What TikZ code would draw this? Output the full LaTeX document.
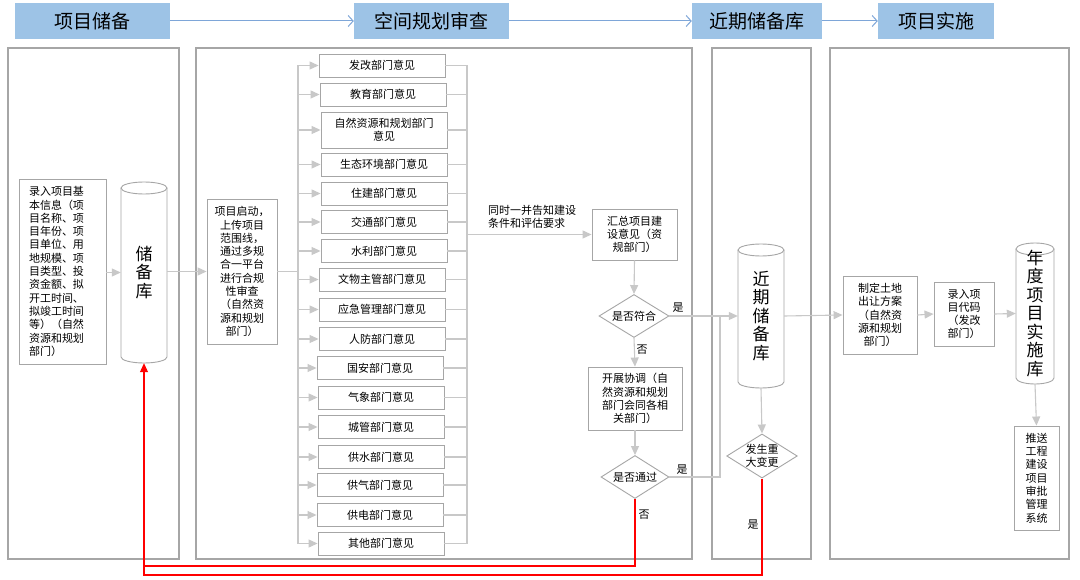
\documentclass[tikz,border=0pt]{standalone}
\usepackage{fontspec}
\setmainfont{Noto Sans CJK SC}
\usetikzlibrary{shapes.geometric,arrows.meta}
\definecolor{hdr}{HTML}{9DC3E6}
\definecolor{hdrarrowc}{HTML}{7EA6D8}
\definecolor{lanec}{HTML}{A6A6A6}
\definecolor{boxc}{HTML}{A6A6A6}
\definecolor{connc}{HTML}{C8C8C8}
\newcommand{\cylshape}[4]{%
 \draw[draw=boxc,line width=0.9pt,fill=white] (#1-#4,#2+6) -- (#1-#4,#3-6) .. controls (#1-#4,#3-2.69) and (#1-0.5523*#4,#3) .. (#1,#3) .. controls (#1+0.5523*#4,#3) and (#1+#4,#3-2.69) .. (#1+#4,#3-6) -- (#1+#4,#2+6);
 \draw[draw=boxc,line width=0.9pt,fill=white] (#1,#2+6) ellipse [x radius=#4, y radius=6];
}
\begin{document}
\begin{tikzpicture}[x=1pt,y=-1pt,
  hdrbox/.style={fill=hdr,draw=none,minimum height=36pt,inner sep=0pt,font=\fontsize{19}{22}\selectfont},
  hdrarrow/.style={draw=hdrarrowc,line width=1pt,-{Straight Barb[length=5pt,width=11pt]}},
  lane/.style={draw=lanec,line width=2pt},
  pbox/.style={draw=boxc,line width=0.9pt,fill=white,inner sep=0pt,align=center,font=\fontsize{11}{13.3}\selectfont},
  dept/.style={pbox,minimum width=126pt,minimum height=23pt},
  judge/.style={diamond,draw=boxc,line width=0.9pt,fill=white,inner sep=0pt,aspect=1.6,align=center,font=\fontsize{11}{13.3}\selectfont},
  cyltext/.style={draw=none,inner sep=0pt,align=center,font=\fontsize{17}{18.5}\selectfont},
  conn/.style={draw=connc,line width=1.1pt,-{Triangle[length=9pt,width=8pt]}},
  cline/.style={draw=connc,line width=1.1pt},
  redconn/.style={draw=red,line width=1.1pt,-{Triangle[length=9pt,width=8pt]}},
  redline/.style={draw=red,line width=1.1pt},
  lbl/.style={inner sep=0pt,font=\fontsize{11}{13.3}\selectfont},
]
\fill[white] (0,0) rectangle (1080,580);
\useasboundingbox (0,0) rectangle (1080,580);

% lanes
\draw[lane] (8,48) rectangle (179,559);
\draw[lane] (196,48) rectangle (692,559);
\draw[lane] (712,48) rectangle (811,559);
\draw[lane] (830,48) rectangle (1069,559);

% headers
\node[hdrbox,minimum width=155pt] (h1) at (92.5,21) {项目储备};
\node[hdrbox,minimum width=155pt] (h2) at (431.5,21) {空间规划审查};
\node[hdrbox,minimum width=130pt] (h3) at (757,21) {近期储备库};
\node[hdrbox,minimum width=116pt] (h4) at (936,21) {项目实施};
\draw[hdrarrow] (h1.east) -- (h2.west);
\draw[hdrarrow] (h2.east) -- (h3.west);
\draw[hdrarrow] (h3.east) -- (h4.west);

% cylinders
\cylshape{144}{182}{363}{23}
\cylshape{761}{244}{388}{23}
\cylshape{1035}{243}{384}{19}
\node[cyltext,minimum width=46pt,minimum height=181pt] (cyl1) at (144,272.5) {储\\备\\库};
\node[cyltext,minimum width=46pt,minimum height=144pt] (cyl2) at (761,316) {近\\期\\储\\备\\库};
\node[cyltext,minimum width=38pt,minimum height=141pt] (cyl3) at (1035,313.5) {年\\度\\项\\目\\实\\施\\库};

% lane 1
\node[pbox,minimum width=87pt,minimum height=185pt,text width=67pt,align=left] (info) at (62.5,271.5)
 {录入项目基\\本信息（项\\目名称、项\\目年份、项\\目单位、用\\地规模、项\\目类型、投\\资金额、拟\\开工时间、\\拟竣工时间\\等）（自然\\资源和规划\\部门）};

% lane 2
\node[pbox,minimum width=70pt,minimum height=145pt] (start) at (242,271.5)
 {项目启动，\\上传项目\\范围线，\\通过多规\\合一平台\\进行合规\\性审查\\（自然资\\源和规划\\部门）};

\node[dept] (d1) at (382,65.5) {发改部门意见};
\node[dept] (d2) at (383,94.5) {教育部门意见};
\node[dept,minimum height=36pt] (d3) at (384,130) {自然资源和规划部门\\意见};
\node[dept] (d4) at (384,164.5) {生态环境部门意见};
\node[dept] (d5) at (384,193.5) {住建部门意见};
\node[dept] (d6) at (384,222) {交通部门意见};
\node[dept] (d7) at (384,251) {水利部门意见};
\node[dept] (d8) at (382,279.5) {文物主管部门意见};
\node[dept] (d9) at (382,309.5) {应急管理部门意见};
\node[dept] (d10) at (382,339) {人防部门意见};
\node[dept] (d11) at (380,368) {国安部门意见};
\node[dept] (d12) at (381,397.5) {气象部门意见};
\node[dept] (d13) at (381,427) {城管部门意见};
\node[dept] (d14) at (381,457) {供水部门意见};
\node[dept] (d15) at (380,485) {供气部门意见};
\node[dept] (d16) at (380,515) {供电部门意见};
\node[dept] (d17) at (381,543.5) {其他部门意见};

\coordinate (lt) at (298,65.5);
\coordinate (lb) at (298,543.5);
\coordinate (rt) at (467,65.5);
\coordinate (rb) at (467,543.5);

\node[pbox,minimum width=85pt,minimum height=51pt] (sum) at (634.5,234.5) {汇总项目建\\设意见（资\\规部门）};
\node[lbl,anchor=west,align=left] (tell) at (488,216.5) {同时一并告知建设\\条件和评估要求};
\node[judge,minimum width=70pt,minimum height=43pt] (j1) at (634,316) {是否符合};
\node[pbox,minimum width=94pt,minimum height=63pt] (coord) at (635,398.5) {开展协调（自\\然资源和规划\\部门会同各相\\关部门）};
\node[judge,minimum width=68pt,minimum height=43pt] (j2) at (635,477) {是否通过};
\node[lbl] (y1) at (678,308) {是};
\node[lbl] (n1) at (642,350) {否};
\node[lbl] (y2) at (682,470) {是};
\node[lbl] (n2) at (644,515) {否};

% lane 3
\node[judge,minimum width=70pt,minimum height=44pt] (j3) at (762,456) {发生重\\大变更};
\node[lbl] (y3) at (753,525) {是};

% lane 4
\node[pbox,minimum width=74pt,minimum height=78pt] (land) at (880,315) {制定土地\\出让方案\\（自然资\\源和规划\\部门）};
\node[pbox,minimum width=60pt,minimum height=64pt] (code) at (964,314) {录入项\\目代码\\（发改\\部门）};
\node[pbox,minimum width=45pt,minimum height=104pt] (push) at (1036.5,478) {推送\\工程\\建设\\项目\\审批\\管理\\系统};

% connectors
\draw[conn] (info.east |- cyl1.west) -- (cyl1.west);
\draw[conn] (cyl1.east |- start.west) -- (start.west);
\draw[cline] (start.east) -- (start.east -| lt);
\draw[cline] (lt) -- (lb);
\foreach \d in {d1,d2,d3,d4,d5,d6,d7,d8,d9,d10,d11,d12,d13,d14,d15,d16,d17}{
  \draw[conn] (\d.west -| lt) -- (\d.west);
  \draw[cline] (\d.east) -- (\d.east -| rt);
}
\draw[cline] (rt) -- (rb);
\draw[conn] (sum.west -| rt) -- (sum.west);
\draw[conn] (sum.south) -- (j1.north);
\draw[conn] (j1.south) -- (coord.north);
\draw[conn] (coord.south) -- (j2.north);
\coordinate (jn) at (720,316);
\draw[conn] (j1.east) -- (cyl2.west);
\draw[cline] (j2.east) -| (jn);
\draw[conn] (cyl2.south) -- (j3.north);
\draw[conn] (cyl2.east) -- (land.west);
\draw[conn] (land.east) -- (code.west);
\draw[conn] (code.east) -- (cyl3.west);
\draw[conn] (cyl3.south) -- (push.north);

% red feedback
\coordinate (rm) at (144,566);
\coordinate (rl) at (144,575);
\draw[redline] (j2.south) |- (rm);
\draw[redconn] (j3.south) |- (rl) -- (cyl1.south);
\end{tikzpicture}
\end{document}
